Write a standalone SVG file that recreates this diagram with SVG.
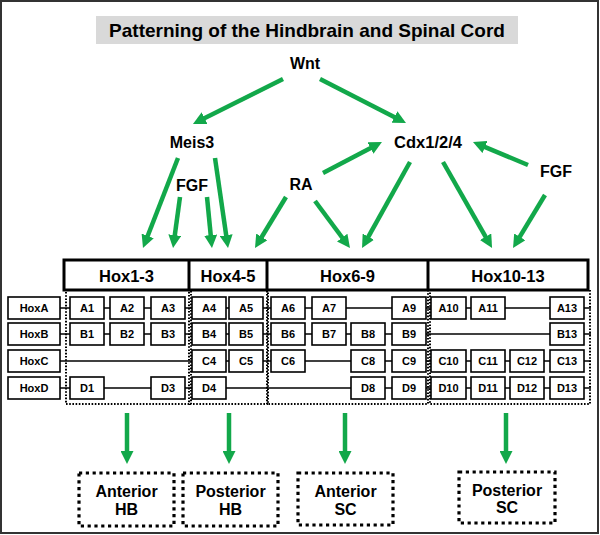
<svg xmlns="http://www.w3.org/2000/svg" width="600" height="535" viewBox="0 0 600 535">
<style>
text{font-family:"Liberation Sans",Arial,sans-serif;font-weight:bold;fill:#000;text-anchor:middle}
.lbl{font-size:16px}
.hdr{font-size:16.5px}
.sm{font-size:11px}
.box{fill:#fff;stroke:#000;stroke-width:1.6}
.grp{fill:none;stroke:#000;stroke-width:2;stroke-dasharray:1.6 1.6}
.out{fill:#fff;stroke:#000;stroke-width:3.2;stroke-dasharray:3.2 3.6}
.row{stroke:#000;stroke-width:1.6}
.arr{stroke:#12a84a;stroke-width:4.5;fill:none;marker-end:url(#ah)}
</style>
<defs>
<marker id="ah" viewBox="0 0 13 13" markerWidth="13" markerHeight="13" markerUnits="userSpaceOnUse" refX="3" refY="6.5" orient="auto">
<path d="M0,0 L13,6.5 L0,13 z" fill="#12a84a"/>
</marker>
</defs>
<rect x="1" y="1" width="597" height="532" fill="#fff" stroke="#333" stroke-width="2"/>
<g id="title">
<rect x="96" y="16" width="422" height="28" fill="#d9d9d9"/>
<text x="307" y="37" style="font-size:19px">Patterning of the Hindbrain and Spinal Cord</text>
</g>
<g id="wnt"><text class="lbl" x="305" y="69">Wnt</text></g>
<g id="meis3"><text class="lbl" x="192" y="148">Meis3</text></g>
<g id="cdx"><text class="lbl" x="428" y="148" style="font-size:16.5px">Cdx1/2/4</text></g>
<g id="fgf1"><text class="lbl" x="192" y="191">FGF</text></g>
<g id="ra"><text class="lbl" x="301" y="190">RA</text></g>
<g id="fgf2"><text class="lbl" x="556" y="177">FGF</text></g>

<g id="connectors">
<line class="arr" x1="283" y1="79" x2="201.9" y2="119.5"/>
<line class="arr" x1="320" y1="79" x2="397.1" y2="118.4"/>
<line class="arr" x1="178" y1="158" x2="146.6" y2="238.7"/>
<line class="arr" x1="215" y1="158" x2="226.6" y2="238.1"/>
<line class="arr" x1="180" y1="197" x2="174.4" y2="238.1"/>
<line class="arr" x1="207" y1="197" x2="211" y2="238"/>
<line class="arr" x1="286" y1="197" x2="260.2" y2="239.5"/>
<line class="arr" x1="315" y1="201" x2="344" y2="240"/>
<line class="arr" x1="323" y1="173" x2="373.1" y2="146.7"/>
<line class="arr" x1="410" y1="162" x2="366.9" y2="239.3"/>
<line class="arr" x1="443" y1="162" x2="487.1" y2="239.3"/>
<line class="arr" x1="528" y1="165" x2="482.2" y2="145.9"/>
<line class="arr" x1="545" y1="195" x2="518.2" y2="239.4"/>
<line class="arr" x1="127" y1="413" x2="127" y2="454"/>
<line class="arr" x1="229" y1="413" x2="229" y2="454"/>
<line class="arr" x1="345" y1="413" x2="345" y2="454"/>
<line class="arr" x1="506" y1="413" x2="506" y2="454"/>
</g>

<g id="groups">
<rect class="grp" x="66" y="290" width="123" height="114"/>
<rect class="grp" x="191" y="290" width="76" height="114"/>
<rect class="grp" x="268" y="290" width="160" height="114"/>
<rect class="grp" x="430" y="290" width="160" height="114"/>
</g>

<g id="headers">
<rect x="64" y="260" width="524" height="30" fill="#fff" stroke="#000" stroke-width="3"/>
<line x1="189" y1="260" x2="189" y2="290" stroke="#000" stroke-width="3"/>
<line x1="267" y1="260" x2="267" y2="290" stroke="#000" stroke-width="3"/>
<line x1="428" y1="260" x2="428" y2="290" stroke="#000" stroke-width="3"/>
<text class="hdr" x="126.5" y="282">Hox1-3</text>
<text class="hdr" x="228" y="282">Hox4-5</text>
<text class="hdr" x="347.5" y="282">Hox6-9</text>
<text class="hdr" x="508" y="282">Hox10-13</text>
</g>

<g id="rowlines">
<line class="row" x1="60" y1="308" x2="591" y2="308"/>
<line class="row" x1="60" y1="334" x2="591" y2="334"/>
<line class="row" x1="60" y1="361" x2="591" y2="361"/>
<line class="row" x1="60" y1="388" x2="591" y2="388"/>
</g>

<g id="hoxA">
<rect class="box" x="8" y="297" width="52" height="22"/><text class="sm" x="34" y="312">HoxA</text>
<rect class="box" x="70" y="297" width="34" height="22"/><text class="sm" x="87" y="312">A1</text>
<rect class="box" x="110" y="297" width="34" height="22"/><text class="sm" x="127" y="312">A2</text>
<rect class="box" x="151" y="297" width="34" height="22"/><text class="sm" x="168" y="312">A3</text>
<rect class="box" x="192" y="297" width="34" height="22"/><text class="sm" x="209" y="312">A4</text>
<rect class="box" x="229" y="297" width="34" height="22"/><text class="sm" x="246" y="312">A5</text>
<rect class="box" x="271" y="297" width="34" height="22"/><text class="sm" x="288" y="312">A6</text>
<rect class="box" x="312" y="297" width="34" height="22"/><text class="sm" x="329" y="312">A7</text>
<rect class="box" x="392" y="297" width="34" height="22"/><text class="sm" x="409" y="312">A9</text>
<rect class="box" x="431" y="297" width="35" height="22"/><text class="sm" x="448.5" y="312">A10</text>
<rect class="box" x="471" y="297" width="34" height="22"/><text class="sm" x="488" y="312">A11</text>
<rect class="box" x="550" y="297" width="34" height="22"/><text class="sm" x="567" y="312">A13</text>
</g>
<g id="hoxB">
<rect class="box" x="8" y="323" width="52" height="22"/><text class="sm" x="34" y="338">HoxB</text>
<rect class="box" x="70" y="323" width="34" height="22"/><text class="sm" x="87" y="338">B1</text>
<rect class="box" x="110" y="323" width="34" height="22"/><text class="sm" x="127" y="338">B2</text>
<rect class="box" x="151" y="323" width="34" height="22"/><text class="sm" x="168" y="338">B3</text>
<rect class="box" x="192" y="323" width="34" height="22"/><text class="sm" x="209" y="338">B4</text>
<rect class="box" x="229" y="323" width="34" height="22"/><text class="sm" x="246" y="338">B5</text>
<rect class="box" x="271" y="323" width="34" height="22"/><text class="sm" x="288" y="338">B6</text>
<rect class="box" x="312" y="323" width="34" height="22"/><text class="sm" x="329" y="338">B7</text>
<rect class="box" x="351" y="323" width="34" height="22"/><text class="sm" x="368" y="338">B8</text>
<rect class="box" x="392" y="323" width="34" height="22"/><text class="sm" x="409" y="338">B9</text>
<rect class="box" x="550" y="323" width="34" height="22"/><text class="sm" x="567" y="338">B13</text>
</g>
<g id="hoxC">
<rect class="box" x="8" y="350" width="52" height="22"/><text class="sm" x="34" y="365">HoxC</text>
<rect class="box" x="192" y="350" width="34" height="22"/><text class="sm" x="209" y="365">C4</text>
<rect class="box" x="229" y="350" width="34" height="22"/><text class="sm" x="246" y="365">C5</text>
<rect class="box" x="271" y="350" width="34" height="22"/><text class="sm" x="288" y="365">C6</text>
<rect class="box" x="351" y="350" width="34" height="22"/><text class="sm" x="368" y="365">C8</text>
<rect class="box" x="392" y="350" width="34" height="22"/><text class="sm" x="409" y="365">C9</text>
<rect class="box" x="431" y="350" width="35" height="22"/><text class="sm" x="448.5" y="365">C10</text>
<rect class="box" x="471" y="350" width="34" height="22"/><text class="sm" x="488" y="365">C11</text>
<rect class="box" x="510" y="350" width="34" height="22"/><text class="sm" x="527" y="365">C12</text>
<rect class="box" x="550" y="350" width="34" height="22"/><text class="sm" x="567" y="365">C13</text>
</g>
<g id="hoxD">
<rect class="box" x="8" y="377" width="52" height="22"/><text class="sm" x="34" y="392">HoxD</text>
<rect class="box" x="70" y="377" width="34" height="22"/><text class="sm" x="87" y="392">D1</text>
<rect class="box" x="151" y="377" width="34" height="22"/><text class="sm" x="168" y="392">D3</text>
<rect class="box" x="192" y="377" width="34" height="22"/><text class="sm" x="209" y="392">D4</text>
<rect class="box" x="351" y="377" width="34" height="22"/><text class="sm" x="368" y="392">D8</text>
<rect class="box" x="392" y="377" width="34" height="22"/><text class="sm" x="409" y="392">D9</text>
<rect class="box" x="431" y="377" width="35" height="22"/><text class="sm" x="448.5" y="392">D10</text>
<rect class="box" x="471" y="377" width="34" height="22"/><text class="sm" x="488" y="392">D11</text>
<rect class="box" x="510" y="377" width="34" height="22"/><text class="sm" x="527" y="392">D12</text>
<rect class="box" x="550" y="377" width="34" height="22"/><text class="sm" x="567" y="392">D13</text>
</g>

<g id="antHB">
<rect class="out" x="79" y="473" width="95" height="53"/>
<text class="lbl" x="126.5" y="497">Anterior</text><text class="lbl" x="126.5" y="515">HB</text>
</g>
<g id="postHB">
<rect class="out" x="183" y="473" width="95" height="53"/>
<text class="lbl" x="230.5" y="497">Posterior</text><text class="lbl" x="230.5" y="515">HB</text>
</g>
<g id="antSC">
<rect class="out" x="298" y="473" width="95" height="52"/>
<text class="lbl" x="345.5" y="497">Anterior</text><text class="lbl" x="345.5" y="515">SC</text>
</g>
<g id="postSC">
<rect class="out" x="459" y="472" width="96" height="51"/>
<text class="lbl" x="507" y="496">Posterior</text><text class="lbl" x="507" y="513">SC</text>
</g>
</svg>
